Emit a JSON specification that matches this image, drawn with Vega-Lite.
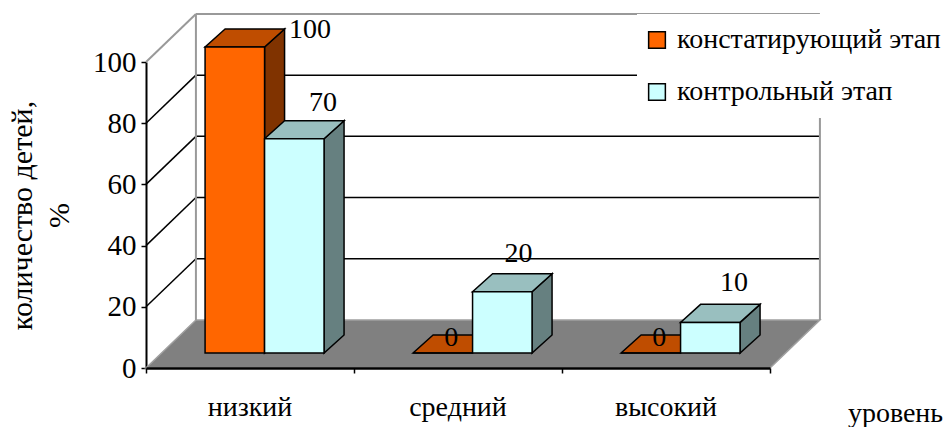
{
"$schema":"https://vega.github.io/schema/vega-lite/v6.json",
"width":624,"height":306,
"autosize":{"type":"none"},
"padding":{"left":146,"top":62,"right":175,"bottom":59},
"background":"white",
"config":{"view":{"stroke":null},"font":"Liberation Serif","text":{"font":"Liberation Serif"}},
"datasets":{"grid":[{"v":0},{"v":20},{"v":40},{"v":60},{"v":80},{"v":100}]},
"data":{"values":[
{"level":"низкий","stage":"констатирующий этап","value":100},
{"level":"низкий","stage":"контрольный этап","value":70},
{"level":"средний","stage":"констатирующий этап","value":0},
{"level":"средний","stage":"контрольный этап","value":20},
{"level":"высокий","stage":"констатирующий этап","value":0},
{"level":"высокий","stage":"контрольный этап","value":10}
]},
"transform":[
{"calculate":"indexof(['низкий','средний','высокий'],datum.level)","as":"g"},
{"calculate":"datum.stage==='констатирующий этап'?0:1","as":"s"},
{"calculate":"datum.g+0.284+datum.s*0.286","as":"x0"},
{"calculate":"datum.x0+0.286","as":"x1"},
{"calculate":"4.9+datum.value","as":"ytop"},
{"calculate":"datum.level+datum.stage","as":"bar"}
],
"resolve":{"scale":{"x":"independent"},"axis":{"x":"independent"}},
"layer":[
{"mark":{"type":"rule","opacity":0},
 "encoding":{"x":{"field":"level","type":"nominal","scale":{"type":"band","domain":["низкий","средний","высокий"]},
  "axis":{"orient":"bottom","domain":false,"ticks":false,"labelAngle":0,"labelFontSize":28,"labelColor":"black","labelFont":"Liberation Serif","labelPadding":25,"title":"уровень","titleFontSize":28,"titleFont":"Liberation Serif","titleFontWeight":"normal","titleColor":"black","titleX":749,"titleY":45,"titleBaseline":"middle"}}}},
{"resolve":{"axis":{"x":"independent","y":"independent"}},
 "layer":[
{"data":{"name":"grid"},"transform":[{"filter":"datum.v===0"},{"fold":["a","b"],"as":["edge","_e"]},
  {"calculate":"datum.edge==='a'?0:15.7","as":"yy"},
  {"calculate":"datum.edge==='a'?0:0.24","as":"xa"},
  {"calculate":"datum.edge==='a'?3:3.24","as":"xb"}],
 "mark":{"type":"area","orient":"horizontal","fill":"#808080","stroke":"#a0a0a0","strokeWidth":1.5},
 "encoding":{"y":{"field":"yy","type":"quantitative","scale":{"domain":[0,100],"nice":false},"axis":null},
  "x":{"field":"xa","type":"quantitative","scale":{"domain":[0,3],"nice":false},
   "axis":{"orient":"bottom","values":[0,1,2,3],"labels":false,"title":null,"grid":false,"domainColor":"black","domainWidth":2.5,"tickColor":"black","tickWidth":1.5,"tickSize":5,"zindex":1}},
  "x2":{"field":"xb"}}},
{"data":{"name":"grid"},"mark":{"type":"rule","color":"black","strokeWidth":1.5},
 "transform":[{"filter":"datum.v>0&&datum.v<100"},{"calculate":"0","as":"xa"},{"calculate":"0.24","as":"xb"},{"calculate":"datum.v+15.7","as":"yb"}],
 "encoding":{"x":{"field":"xa","type":"quantitative","scale":{"domain":[0,3],"nice":false},"axis":null},"x2":{"field":"xb"},
  "y":{"field":"v","type":"quantitative","scale":{"domain":[0,100],"nice":false},
   "axis":{"orient":"left","values":[0,20,40,60,80,100],"grid":false,"labelFontSize":29,"labelColor":"black","labelFont":"Liberation Serif","labelPadding":5,"domainColor":"black","domainWidth":2,"tickColor":"black","tickWidth":1.5,"tickSize":5,
    "title":["количество\u00a0детей,","%"],"titleFontSize":30,"titleLineHeight":37,"titleFont":"Liberation Serif","titleFontWeight":"normal","titleColor":"black","titleX":-109,"titleY":153}},
  "y2":{"field":"yb"}}},
{"data":{"name":"grid"},"mark":{"type":"rule","color":"black","strokeWidth":1.5},
 "transform":[{"filter":"datum.v>0&&datum.v<100"},{"calculate":"0.24","as":"xa"},{"calculate":"3.24","as":"xb"},{"calculate":"datum.v+15.7","as":"yb"}],
 "encoding":{"x":{"field":"xa","type":"quantitative","scale":{"domain":[0,3],"nice":false},"axis":null},"x2":{"field":"xb"},
  "y":{"field":"yb","type":"quantitative","scale":{"domain":[0,100],"nice":false},"axis":null}}},
{"data":{"name":"grid"},"mark":{"type":"rule","color":"#999999","strokeWidth":2},
 "transform":[{"filter":"datum.v===100"},{"calculate":"0","as":"xa"},{"calculate":"0.24","as":"xb"},{"calculate":"datum.v+15.7","as":"yb"}],
 "encoding":{"x":{"field":"xa","type":"quantitative","scale":{"domain":[0,3],"nice":false},"axis":null},"x2":{"field":"xb"},
  "y":{"field":"v","type":"quantitative","scale":{"domain":[0,100],"nice":false},"axis":null},"y2":{"field":"yb"}}},
{"data":{"name":"grid"},"mark":{"type":"rule","color":"#999999","strokeWidth":2},
 "transform":[{"filter":"datum.v===100"},{"calculate":"0.24","as":"xa"},{"calculate":"3.24","as":"xb"},{"calculate":"datum.v+15.7","as":"yb"}],
 "encoding":{"x":{"field":"xa","type":"quantitative","scale":{"domain":[0,3],"nice":false},"axis":null},"x2":{"field":"xb"},
  "y":{"field":"yb","type":"quantitative","scale":{"domain":[0,100],"nice":false},"axis":null}}},
{"data":{"name":"grid"},"mark":{"type":"rule","color":"#999999","strokeWidth":2},
 "transform":[{"filter":"datum.v===100"},{"fold":["a","b"],"as":["edge","_e"]},{"calculate":"datum.edge==='a'?0.24:3.24","as":"xa"},{"calculate":"15.7","as":"ya"},{"calculate":"115.7","as":"yb"}],
 "encoding":{"x":{"field":"xa","type":"quantitative","scale":{"domain":[0,3],"nice":false},"axis":null},
  "y":{"field":"ya","type":"quantitative","scale":{"domain":[0,100],"nice":false},"axis":null},"y2":{"field":"yb"}}},
{"mark":{"type":"area","orient":"vertical","stroke":"black","strokeWidth":1.5},
 "transform":[{"fold":["a","b"],"as":["edge","_e"]},
  {"calculate":"datum.edge==='a'?datum.x1:datum.x1+0.0962","as":"xx"},
  {"calculate":"datum.edge==='a'?datum.ytop:datum.ytop+5.9","as":"yy"},
  {"calculate":"datum.edge==='a'?4.9:10.8","as":"yy2"}],
 "encoding":{"x":{"field":"xx","type":"quantitative","scale":{"domain":[0,3],"nice":false},"axis":null},
  "y":{"field":"yy","type":"quantitative","scale":{"domain":[0,100],"nice":false},"axis":null},"y2":{"field":"yy2"},
  "detail":{"field":"bar"},
  "fill":{"condition":{"test":"datum.s===0","value":"#803300"},"value":"#668080"}}},
{"mark":{"type":"area","orient":"horizontal","stroke":"black","strokeWidth":1.5},
 "transform":[{"fold":["a","b"],"as":["edge","_e"]},
  {"calculate":"datum.edge==='a'?datum.ytop:datum.ytop+5.9","as":"yy"},
  {"calculate":"datum.edge==='a'?datum.x0:datum.x0+0.0962","as":"xa"},
  {"calculate":"datum.edge==='a'?datum.x1:datum.x1+0.0962","as":"xb"}],
 "encoding":{"y":{"field":"yy","type":"quantitative","scale":{"domain":[0,100],"nice":false},"axis":null},
  "x":{"field":"xa","type":"quantitative","scale":{"domain":[0,3],"nice":false},"axis":null},"x2":{"field":"xb"},
  "detail":{"field":"bar"},
  "fill":{"condition":{"test":"datum.s===0","value":"#BF4D00"},"value":"#99BFBF"}}},
{"mark":{"type":"bar","stroke":"black","strokeWidth":1.5},
 "encoding":{"x":{"field":"x0","type":"quantitative","scale":{"domain":[0,3],"nice":false},"axis":null},"x2":{"field":"x1"},
  "y":{"field":"ytop","type":"quantitative","scale":{"domain":[0,100],"nice":false},"axis":null},"y2":{"datum":4.9},
  "color":{"field":"stage","type":"nominal","scale":{"domain":["констатирующий этап","контрольный этап"],"range":["#FF6600","#CCFFFF"]},
   "legend":{"orient":"none","legendX":491,"legendY":-48,"fillColor":"white","padding":12,"title":null,"symbolType":"square","symbolSize":280,"symbolOffset":-6,"symbolStrokeColor":"black","symbolStrokeWidth":1.5,"labelFont":"Liberation Serif","labelFontSize":28,"labelColor":"black","labelLimit":400,"rowPadding":24,"labelOffset":6}}}},
{"mark":{"type":"text","font":"Liberation Serif","fontSize":28,"color":"black"},
 "transform":[
  {"calculate":"datum.x0+{'100':0.504,'70':0.281,'20':0.221,'10':0.257,'0':0.183}[datum.value]","as":"lx"},
  {"calculate":"datum.value+{'100':10.5,'70':16.6,'20':17.3,'10':17.8,'0':9.8}[datum.value]","as":"ly"}],
 "encoding":{"x":{"field":"lx","type":"quantitative","scale":{"domain":[0,3],"nice":false},"axis":null},
  "y":{"field":"ly","type":"quantitative","scale":{"domain":[0,100],"nice":false},"axis":null},
  "text":{"field":"value","type":"quantitative"}}}
]}
]}
